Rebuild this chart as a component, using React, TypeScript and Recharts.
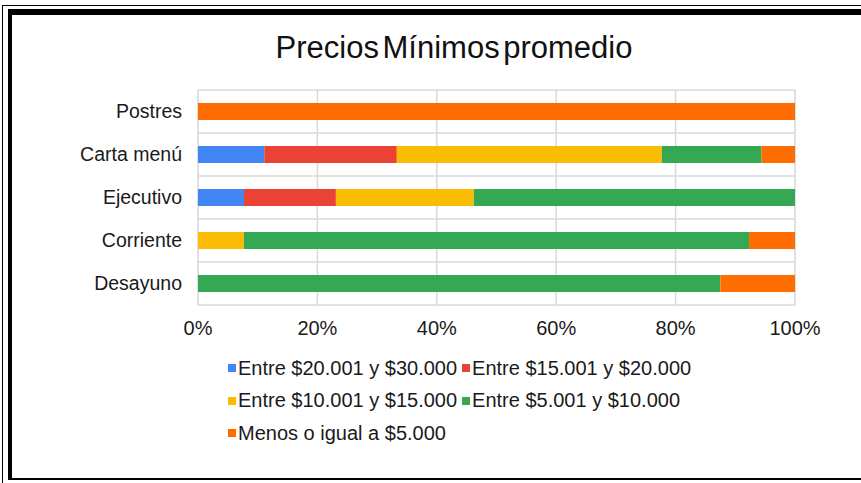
import { Bar, BarChart, CartesianGrid, Legend, XAxis, YAxis } from "recharts";

const categories = ["Postres", "Carta menú", "Ejecutivo", "Corriente", "Desayuno"];

// porcentaje de locales en cada rango de precio
const entre20y30 = [0, 11.1, 7.7, 0, 0];
const entre15y20 = [0, 22.2, 15.4, 0, 0];
const entre10y15 = [0, 44.4, 23.1, 7.7, 0];
const entre5y10 = [0, 16.7, 53.8, 84.6, 87.5];
const hasta5 = [100, 5.6, 0, 7.7, 12.5];

const majorTicks = [0, 20, 40, 60, 80, 100];
const minorTicks = [0, 4, 8, 12, 16, 20, 24, 28, 32, 36, 40, 44, 48, 52, 56, 60, 64, 68, 72, 76, 80, 84, 88, 92, 96, 100];

const series = [
  { key: "a", name: "Entre $20.001 y $30.000", color: "#4285f4", values: entre20y30 },
  { key: "b", name: "Entre $15.001 y $20.000", color: "#ea4335", values: entre15y20 },
  { key: "c", name: "Entre $10.001 y $15.000", color: "#fbbc04", values: entre10y15 },
  { key: "d", name: "Entre $5.001 y $10.000", color: "#34a853", values: entre5y10 },
  { key: "e", name: "Menos o igual a $5.000", color: "#ff6d01", values: hasta5 },
];

const data = categories.map((name, i) => {
  const row: Record<string, string | number> = { name };
  series.forEach((s) => {
    row[s.key] = s.values[i];
  });
  return row;
});

const font = '"Liberation Sans", Arial, sans-serif';

function LegendBox() {
  return (
    <div style={{ display: "flex", flexWrap: "wrap", width: 480, fontFamily: font }}>
      {series.map((s) => (
        <div
          key={s.key}
          style={{ display: "flex", alignItems: "center", height: 32.5, marginRight: 5, fontSize: 20, color: "#1a1a1a" }}
        >
          <span style={{ width: 8, height: 8, background: s.color, marginRight: 2, display: "inline-block" }} />
          {s.name}
        </div>
      ))}
    </div>
  );
}

export default function App() {
  return (
    <div style={{ position: "absolute", left: 0, top: 0, width: 861, height: 483, overflow: "hidden", background: "#fff" }}>
      {/* marco */}
      <div style={{ position: "absolute", left: 2, top: 5, width: 900, height: 477, borderLeft: "1px solid #000", borderTop: "1px solid #000", borderBottom: "1px solid #000" }} />
      <div style={{ position: "absolute", left: 8, top: 9, width: 900, height: 463, borderLeft: "4px solid #000", borderTop: "6px solid #000", borderBottom: "2px solid #000" }} />
      <div style={{ position: "absolute", left: 0, top: 32, width: 908, textAlign: "center", fontFamily: font, fontSize: 31, lineHeight: "31px", color: "#111", wordSpacing: -5 }}>
        Precios Mínimos promedio
      </div>
      <div style={{ position: "absolute", left: 0, top: 0 }}>
        <BarChart
          width={861}
          height={483}
          data={data}
          layout="vertical"
          barSize={17}
          margin={{ top: 90, right: 66, bottom: 138, left: 0 }}
        >
          <CartesianGrid xAxisId="minor" horizontal={false} stroke="#eeeeee" strokeWidth={1} />
          <CartesianGrid
            xAxisId="major"
            stroke="#d9d9d9"
            strokeWidth={1.5}
            horizontalCoordinatesGenerator={({ offset }: any) =>
              categories.map((_, i) => offset.top + (i * offset.height) / categories.length).concat(offset.top + offset.height)
            }
          />
          <XAxis xAxisId="minor" type="number" domain={[0, 100]} ticks={minorTicks} hide />
          <XAxis
            xAxisId="major"
            type="number"
            domain={[0, 100]}
            ticks={majorTicks}
            tickFormatter={(v) => `${v}%`}
            axisLine={false}
            tickLine={false}
            tickSize={0}
            tickMargin={16}
            height={40}
            tick={{ fontSize: 20, fill: "#1a1a1a", fontFamily: font }}
          />
          <YAxis
            type="category"
            dataKey="name"
            width={198}
            axisLine={false}
            tickLine={false}
            tickSize={0}
            tickMargin={16}
            tick={{ fontSize: 19.5, fill: "#1a1a1a", fontFamily: font }}
          />
          {series.map((s) => (
            <Bar key={s.key} xAxisId="major" dataKey={s.key} name={s.name} stackId="1" fill={s.color} isAnimationActive={false} />
          ))}
          <Legend
            layout="vertical"
            align="center"
            verticalAlign="middle"
            wrapperStyle={{ left: 228, top: 352, width: 490 }}
            content={() => <LegendBox />}
          />
        </BarChart>
      </div>
    </div>
  );
}
